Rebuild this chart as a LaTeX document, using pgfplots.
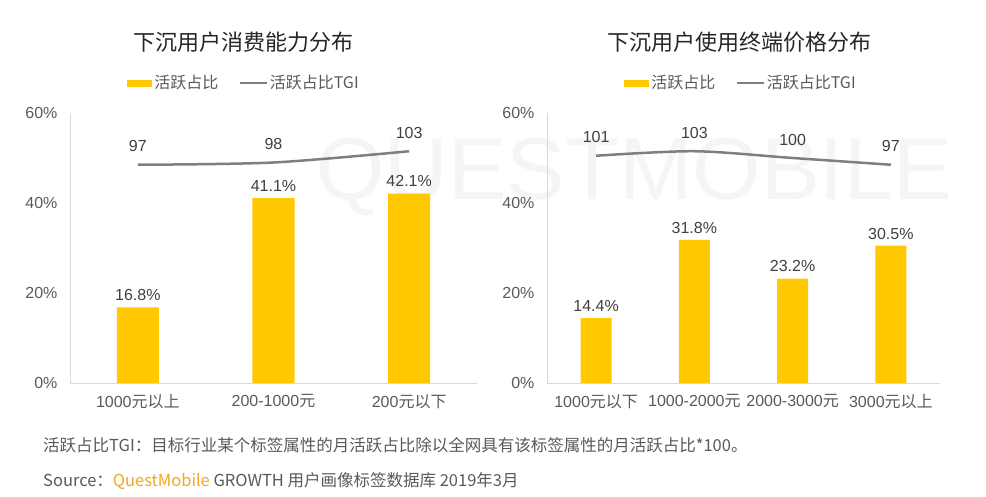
\documentclass[border=0pt]{standalone}
\usepackage{fontspec}
\setmainfont{Liberation Sans}
\newfontfamily\cjk{Noto Sans CJK SC}
\usepackage{pgfplots}
\pgfplotsset{compat=1.18}
\definecolor{barY}{HTML}{FFC800}
\definecolor{tgi}{HTML}{7F7F7F}
\definecolor{txt}{HTML}{404040}
\definecolor{lab}{HTML}{595959}
\definecolor{axisc}{HTML}{D9D9D9}
\definecolor{qm}{HTML}{F5A623}
\pgfplotsset{
  /pgf/number format/assume math mode=true,
  base/.style={
    scale only axis, anchor=south west,
    height=270pt, ymin=0, ymax=60,
    axis lines*=left, axis line style={axisc, line width=0.8pt},
    major tick length=0pt,
    ytick={0,20,40,60}, yticklabels={0\%,20\%,40\%,60\%},
    ticklabel style={font=\fontsize{16}{16}\selectfont, text=lab},
    yticklabel style={xshift=-9pt},
    xticklabel style={yshift=-8pt},
    ybar, bar shift=0pt,
    nodes near coords={\pgfmathprintnumber[fixed,precision=1,fixed zerofill]{\pgfplotspointmeta}\%},
    every node near coord/.append style={font=\fontsize{16}{16}\selectfont, text=txt, yshift=3pt},
    legend style={draw=none, fill=none, font=\cjk\fontsize{16}{16}\selectfont, text=lab, anchor=center,
      legend columns=2, /tikz/every even column/.append style={column sep=18pt},
      legend cell align=left},
  },
  tgiax/.style={
    scale only axis, anchor=south west, height=270pt, ymin=0, ymax=120, hide axis,
  },
  tgiline/.style={tgi, line width=2.5pt, smooth, tension=0.5,
    nodes near coords, every node near coord/.append style={font=\fontsize{16}{16}\selectfont, text=txt, anchor=south, yshift=8pt}},
}
\begin{document}
\begin{tikzpicture}
\useasboundingbox (0pt,0pt) rectangle (986pt,497pt);
% faint watermark
\node[text=black!4, font=\fontsize{88}{88}\selectfont, anchor=base west, inner sep=0pt] at (316pt,297pt) {QUESTMOBILE};
% titles
\node[font=\cjk\fontsize{22}{22}\selectfont, text=black!85] at (243pt,455pt) {下沉用户消费能力分布};
\node[font=\cjk\fontsize{22}{22}\selectfont, text=black!85] at (739pt,455pt) {下沉用户使用终端价格分布};
% left panel
\begin{axis}[base, at={(70pt,114pt)}, width=407pt, xmin=-0.5, xmax=2.5,
  xtick={0,1,2}, xticklabels={1000{\cjk 元以上},200-1000{\cjk 元},200{\cjk 元以下}},
  bar width=42pt, legend style={at={(0.4275,1.111)}}]
\addplot[fill=barY, draw=none, area legend,
  legend image code/.code={\fill[barY] (0pt,-3.5pt) rectangle (25pt,3.5pt);}]
  coordinates {(0,16.8) (1,41.1) (2,42.1)};
\addlegendentry{活跃占比}
\addlegendimage{legend image code/.code={\draw[tgi, line width=2.5pt] (0pt,0pt) -- (27pt,0pt);}}
\addlegendentry{活跃占比TGI}
\end{axis}
\begin{axis}[tgiax, at={(70pt,114pt)}, width=407pt, xmin=-0.5, xmax=2.5]
\addplot[tgiline] coordinates {(0,97) (1,98) (2,103)};
\end{axis}
% right panel
\begin{axis}[base, at={(547pt,114pt)}, width=393pt, xmin=-0.5, xmax=3.5,
  xtick={0,1,2,3}, xticklabels={1000{\cjk 元以下},1000-2000{\cjk 元},2000-3000{\cjk 元},3000{\cjk 元以上}},
  bar width=31pt, legend style={at={(0.4936,1.111)}}]
\addplot[fill=barY, draw=none, area legend,
  legend image code/.code={\fill[barY] (0pt,-3.5pt) rectangle (25pt,3.5pt);}]
  coordinates {(0,14.4) (1,31.8) (2,23.2) (3,30.5)};
\addlegendentry{活跃占比}
\addlegendimage{legend image code/.code={\draw[tgi, line width=2.5pt] (0pt,0pt) -- (27pt,0pt);}}
\addlegendentry{活跃占比TGI}
\end{axis}
\begin{axis}[tgiax, at={(547pt,114pt)}, width=393pt, xmin=-0.5, xmax=3.5]
\addplot[tgiline] coordinates {(0,101) (1,103) (2,100) (3,97)};
\end{axis}
% footer
\node[anchor=west, font=\cjk\fontsize{16.5}{16.5}\selectfont, text=lab, inner sep=0pt] at (43pt,52pt)
  {活跃占比TGI：目标行业某个标签属性的月活跃占比除以全网具有该标签属性的月活跃占比*100。};
\node[anchor=west, font=\cjk\fontsize{16.5}{16.5}\selectfont, text=lab, inner sep=0pt] at (43pt,16pt)
  {Source：{\color{qm}QuestMobile} GROWTH 用户画像标签数据库 2019年3月};
\end{tikzpicture}
\end{document}
